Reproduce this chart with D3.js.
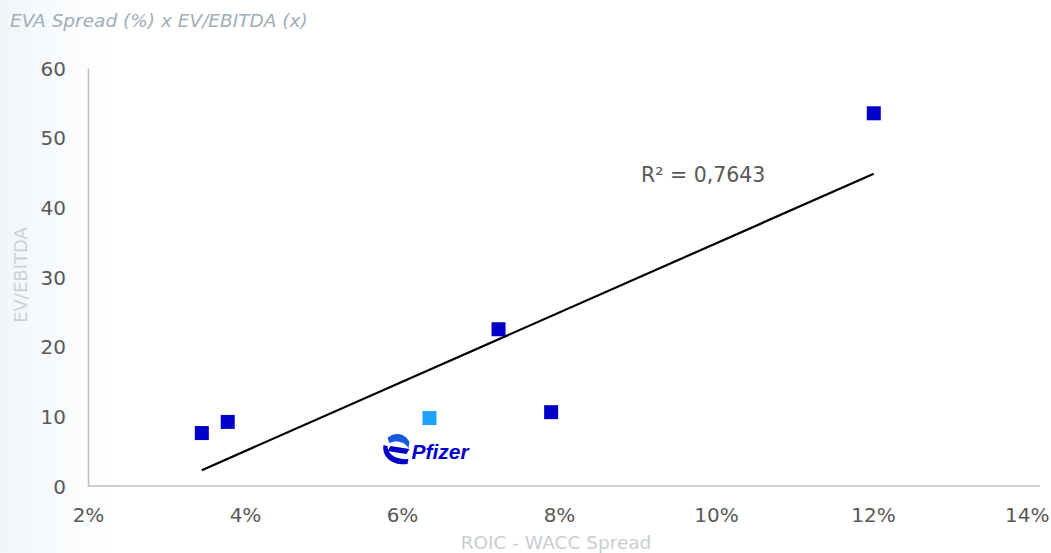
<!DOCTYPE html>
<html>
<head>
<meta charset="utf-8">
<script src="https://cdn.jsdelivr.net/npm/d3@7"></script>
<style>
  body { margin: 0; background: #fff; }
  svg { display: block; font-family: "DejaVu Sans", Verdana, sans-serif; }
</style>
</head>
<body>
<div class="canva"></div>
<script>
// data
const companies = ["A", "B", "Pfizer", "C", "D", "E"];
const spread = [3.45, 3.78, 6.35, 7.23, 7.9, 12.01];   // ROIC - WACC (%)
const evEbitda = [7.6, 9.2, 9.75, 22.5, 10.6, 53.5];
const xTicks = [2, 4, 6, 8, 10, 12, 14];
const yTicks = [0, 10, 20, 30, 40, 50, 60];
const r2Label = "R² = 0,7643";

const width = 1051, height = 553;
const margin = {top: 68, right: 21, bottom: 67, left: 88};

const svg = d3.select(".canva").append("svg")
    .attr("width", width)
    .attr("height", height);

// faint tint on the left edge
const defs = svg.append("defs");
const grad = defs.append("linearGradient").attr("id", "bg")
    .attr("x1", "0").attr("x2", "1").attr("y1", "0").attr("y2", "0");
grad.append("stop").attr("offset", "0").attr("stop-color", "#f1f6fb");
grad.append("stop").attr("offset", "0.11").attr("stop-color", "#ffffff");
svg.append("rect").attr("width", width).attr("height", height).attr("fill", "url(#bg)");

const x = d3.scaleLinear().domain([2, 14]).range([margin.left, 1030]);
const y = d3.scaleLinear().domain([0, 60]).range([486, margin.top]);

// title
svg.append("text")
    .attr("x", 10).attr("y", 27)
    .attr("font-size", 18.5)
    .attr("font-style", "italic")
    .attr("fill", "#a0aeb8")
    .text("EVA Spread (%) x EV/EBITDA (x)");

// axes
const xAxis = svg.append("g")
    .attr("transform", `translate(0, ${y(0)})`)
    .call(d3.axisBottom(x).tickValues(xTicks).tickSize(0).tickPadding(22).tickFormat(d => d + "%"));
xAxis.select(".domain").attr("d", `M${x(2)},0H1040`);

const yAxis = svg.append("g")
    .attr("transform", `translate(${x(2)}, 0)`)
    .call(d3.axisLeft(y).tickValues(yTicks).tickSize(0).tickPadding(22));

svg.selectAll(".domain").attr("stroke", "#bfbfbf").attr("stroke-width", 1.5);
svg.selectAll(".tick text")
    .attr("font-size", 20)
    .attr("fill", "#595959")
    .attr("font-family", "DejaVu Sans, sans-serif");
yAxis.selectAll(".tick text").attr("dy", "0.36em");
// keep the last x label inside the window
xAxis.selectAll(".tick text").filter(d => d === 14)
    .attr("text-anchor", "end").attr("x", 1049 - x(14));

// axis titles
svg.append("text")
    .attr("transform", "translate(27, 275) rotate(-90)")
    .attr("text-anchor", "middle")
    .attr("font-size", 18)
    .attr("fill", "#cdd1d5")
    .text("EV/EBITDA");

svg.append("text")
    .attr("x", 556).attr("y", 549)
    .attr("text-anchor", "middle")
    .attr("font-size", 18.5)
    .attr("fill", "#c9cdd1")
    .text("ROIC - WACC Spread");

// linear trendline from least squares
const mx = d3.mean(spread), my = d3.mean(evEbitda);
const sxy = d3.sum(spread, (v, i) => (v - mx) * (evEbitda[i] - my));
const sxx = d3.sum(spread, v => (v - mx) * (v - mx));
const slope = sxy / sxx, intercept = my - slope * mx;
const xs = d3.extent(spread);

svg.append("line")
    .attr("x1", x(xs[0])).attr("y1", y(intercept + slope * xs[0]))
    .attr("x2", x(xs[1])).attr("y2", y(intercept + slope * xs[1]))
    .attr("stroke", "#000")
    .attr("stroke-width", 2.2);

// points
const pts = companies.map((c, i) => ({c, x: spread[i], y: evEbitda[i]}));
svg.selectAll(".pt").data(pts).enter().append("rect")
    .attr("class", "pt")
    .attr("x", d => x(d.x) - 7)
    .attr("y", d => y(d.y) - 7)
    .attr("width", 14).attr("height", 14)
    .attr("fill", d => d.c === "Pfizer" ? "#1ea0ff" : "#0000c8");

// R² label
svg.append("text")
    .attr("x", 641).attr("y", 182)
    .attr("font-size", 20.5)
    .attr("fill", "#595959")
    .text(r2Label);

// Pfizer logo under its point
const pf = pts.find(d => d.c === "Pfizer");
const logo = svg.append("g")
    .attr("transform", `translate(${x(pf.x) - 47}, ${y(pf.y) + 14})`);
logo.append("path")
    .attr("d", "M5,6 C11,0 22,0 27,10 L26,16 C22,9 13,8 7,11 Z")
    .attr("fill", "#1a5ae0");
logo.append("path")
    .attr("d", "M8,14 L27,17 L24,22 L5,19 Z")
    .attr("fill", "#0000c8");
logo.append("path")
    .attr("d", "M1,13 C-1,25 10,34 25,32 L26,27 C13,28 5,22 5,14 Z")
    .attr("fill", "#0000c8");
logo.append("text")
    .attr("x", 29).attr("y", 27)
    .attr("font-size", 21)
    .attr("font-weight", "bold")
    .attr("font-style", "italic")
    .attr("font-family", "Liberation Sans, Arial, sans-serif")
    .attr("fill", "#0000c8")
    .text("Pfizer");
</script>
</body>
</html>
